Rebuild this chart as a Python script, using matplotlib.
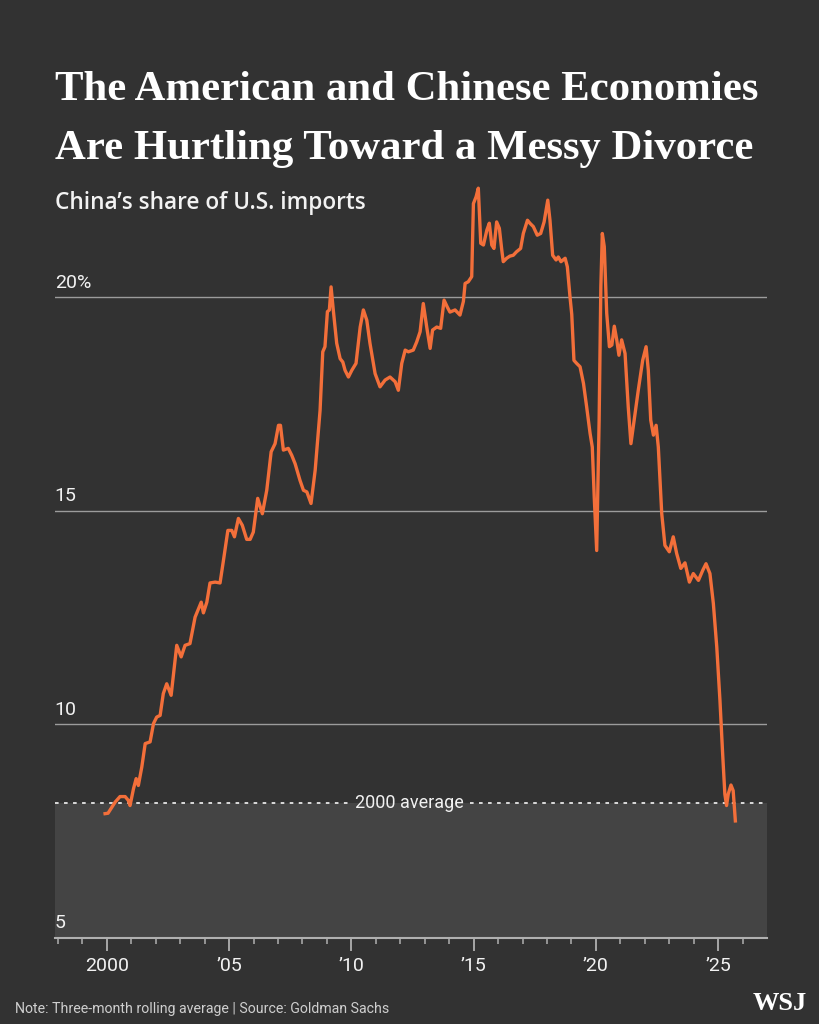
import matplotlib
matplotlib.use('Agg')
import matplotlib.pyplot as plt
from matplotlib import font_manager
from matplotlib.ticker import MultipleLocator
import matplotlib.transforms as mtransforms

# China's share of U.S. imports, three-month rolling average
years = [1999.93, 2000.05, 2000.34, 2000.54, 2000.75, 2000.88, 2000.95, 2001.09, 2001.2, 2001.29,
         2001.43, 2001.57, 2001.77, 2001.91, 2002.04, 2002.18, 2002.31, 2002.45, 2002.63, 2002.86,
         2003.04, 2003.2, 2003.4, 2003.61, 2003.86, 2003.95, 2004.09, 2004.22, 2004.43, 2004.63,
         2004.77, 2004.95, 2005.11, 2005.22, 2005.38, 2005.54, 2005.72, 2005.86, 2005.99, 2006.17,
         2006.36, 2006.54, 2006.72, 2006.88, 2007.02, 2007.1, 2007.22, 2007.42, 2007.56, 2007.7,
         2007.9, 2008.04, 2008.18, 2008.35, 2008.52, 2008.72, 2008.83, 2008.92, 2009.02, 2009.1,
         2009.17, 2009.26, 2009.4, 2009.54, 2009.65, 2009.74, 2009.88, 2010.02, 2010.19, 2010.36,
         2010.49, 2010.63, 2010.76, 2010.97, 2011.17, 2011.38, 2011.58, 2011.79, 2011.92, 2012.06,
         2012.2, 2012.33, 2012.53, 2012.67, 2012.81, 2012.94, 2013.08, 2013.22, 2013.32, 2013.49,
         2013.65, 2013.79, 2013.92, 2014.03, 2014.24, 2014.44, 2014.58, 2014.65, 2014.78, 2014.92,
         2014.99, 2015.1, 2015.19, 2015.29, 2015.4, 2015.54, 2015.64, 2015.74, 2015.83, 2015.94,
         2016.05, 2016.15, 2016.21, 2016.35, 2016.48, 2016.62, 2016.75, 2016.92, 2017.03, 2017.2,
         2017.3, 2017.44, 2017.6, 2017.74, 2017.88, 2018.03, 2018.12, 2018.23, 2018.37, 2018.46,
         2018.57, 2018.74, 2018.83, 2018.94, 2019.01, 2019.1, 2019.21, 2019.35, 2019.49, 2019.62,
         2019.76, 2019.85, 2019.93, 2020.03, 2020.13, 2020.2, 2020.26, 2020.34, 2020.44, 2020.55,
         2020.65, 2020.75, 2020.85, 2020.94, 2021.05, 2021.19, 2021.32, 2021.43, 2021.56, 2021.73,
         2021.91, 2022.05, 2022.14, 2022.24, 2022.35, 2022.46, 2022.55, 2022.69, 2022.82, 2023.0,
         2023.16, 2023.3, 2023.47, 2023.64, 2023.82, 2023.98, 2024.19, 2024.37, 2024.5, 2024.66,
         2024.8, 2024.94, 2025.07, 2025.18, 2025.27, 2025.34, 2025.41, 2025.52, 2025.61, 2025.7]
share = [7.91, 7.92, 8.18, 8.31, 8.31, 8.22, 8.10, 8.49, 8.73, 8.57,
         9.0, 9.55, 9.59, 10.02, 10.17, 10.21, 10.72, 10.95, 10.68, 11.85,
         11.58, 11.85, 11.89, 12.51, 12.86, 12.61, 12.86, 13.31, 13.33, 13.31,
         13.84, 14.54, 14.54, 14.39, 14.82, 14.66, 14.33, 14.33, 14.50, 15.29,
         14.93, 15.48, 16.38, 16.57, 17.0, 17.0, 16.42, 16.46, 16.3, 16.1,
         15.71, 15.48, 15.44, 15.17, 15.95, 17.35, 18.72, 18.84, 19.66, 19.70,
         20.24, 19.70, 18.92, 18.56, 18.48, 18.29, 18.13, 18.29, 18.45, 19.30,
         19.70, 19.46, 18.92, 18.21, 17.90, 18.06, 18.13, 18.02, 17.82, 18.45,
         18.76, 18.72, 18.76, 18.95, 19.19, 19.85, 19.30, 18.8, 19.23, 19.30,
         19.27, 19.93, 19.77, 19.65, 19.70, 19.58, 19.90, 20.32, 20.36, 20.48,
         22.19, 22.35, 22.55, 21.26, 21.22, 21.57, 21.73, 21.22, 21.14, 21.76,
         21.61, 21.10, 20.83, 20.91, 20.96, 20.98, 21.06, 21.14, 21.49, 21.80,
         21.73, 21.65, 21.45, 21.49, 21.76, 22.27, 21.80, 20.98, 20.87, 20.94,
         20.83, 20.91, 20.71, 20.0, 19.6, 18.52, 18.45, 18.37, 17.98, 17.43,
         16.81, 16.49, 15.32, 14.07, 17.12, 20.24, 21.49, 21.18, 19.62, 18.84,
         18.88, 19.32, 19.0, 18.64, 19.0, 18.68, 17.43, 16.57, 17.12, 17.82,
         18.52, 18.84, 18.29, 17.12, 16.77, 17.0, 16.49, 14.93, 14.19, 14.04,
         14.39, 14.0, 13.65, 13.78, 13.33, 13.53, 13.37, 13.61, 13.76, 13.53,
         12.83, 11.81, 10.56, 9.31, 8.37, 8.10, 8.37, 8.58, 8.45, 7.74]

avg_2000 = 8.15
ytick_vals = [5, 10, 15, 20]
ytick_labels = ['5', '10', '15', '20%']
xtick_vals = [2000, 2005, 2010, 2015, 2020, 2025]
xtick_labels = ['2000', '\u201905', '\u201910', '\u201915', '\u201920', '\u201925']

bg = '#323232'
shade = '#444444'
orange = '#f36f3a'
grid_c = '#9c9c9c'
txt = '#f2f2f2'

names = {f.name for f in font_manager.fontManager.ttflist}
narrow = 'Liberation Sans Narrow' if 'Liberation Sans Narrow' in names else 'Roboto'

fig = plt.figure(figsize=(8.19, 10.24), dpi=100, facecolor=bg)
ax = fig.add_axes([0.0668, 0.0840, 0.8693, 0.7510], facecolor=bg)

xmin, xmax = 1997.87, 2026.98
ax.set_xlim(xmin, xmax)
ax.set_ylim(5, 23)

# shaded band below the 2000 average, dotted line with a gap for the label
ax.axhspan(5, avg_2000, color=shade, zorder=0, lw=0)
dot = dict(color='#e6e6e6', lw=1.3, ls=(0, (2, 3)), zorder=1)
ax.plot([xmin, 2009.9], [avg_2000, avg_2000], **dot)
ax.plot([2014.85, xmax], [avg_2000, avg_2000], **dot)
ax.text(2012.37, avg_2000, '2000 average', ha='center', va='center', fontsize=13,
        color=txt, family=narrow, zorder=2)

for v in ytick_vals[1:]:
    ax.axhline(v, color=grid_c, lw=1.0, zorder=1)

ax.plot(years, share, color=orange, lw=2.4, solid_joinstyle='round', zorder=3)

# y labels sit above the gridlines at the left edge
off = mtransforms.offset_copy(ax.get_yaxis_transform(), fig=fig, x=0, y=4, units='points')
for v, lab in zip(ytick_vals, ytick_labels):
    ax.text(0.0, v, lab, transform=off, ha='left', va='bottom', fontsize=14,
            color=txt, family=narrow)

for s in ['top', 'right', 'left']:
    ax.spines[s].set_visible(False)
ax.spines['bottom'].set_color('#b0b0b0')
ax.spines['bottom'].set_linewidth(1.5)
ax.set_yticks([])
ax.set_xticks(xtick_vals)
ax.set_xticklabels(xtick_labels, fontsize=14, color=txt, family=narrow)
ax.xaxis.set_minor_locator(MultipleLocator(1))
ax.tick_params(axis='x', which='major', length=9, width=1.3, color='#b0b0b0', pad=5)
ax.tick_params(axis='x', which='minor', length=4.5, width=1.1, color='#b0b0b0')

fig.text(0.067, 1 - 100 / 1024, 'The American and Chinese Economies', fontsize=30.8,
         fontweight='bold', family='Liberation Serif', color='white', va='baseline')
fig.text(0.067, 1 - 159 / 1024, 'Are Hurtling Toward a Messy Divorce', fontsize=30.8,
         fontweight='bold', family='Liberation Serif', color='white', va='baseline')
fig.text(0.067, 1 - 209 / 1024, 'China\u2019s share of U.S. imports', fontsize=16.3,
         fontweight='semibold', family='Open Sans', color=txt, va='baseline')

fig.text(0.018, 1 - 1013 / 1024, 'Note: Three-month rolling average | Source: Goldman Sachs',
         fontsize=10.2, family=narrow, color='#cfcfcf', va='baseline')
fig.text(0.985, 1 - 1010 / 1024, 'WSJ', fontsize=19, fontweight='bold',
         family='Liberation Serif', color='white', ha='right', va='baseline')

fig.savefig('out.png', dpi=100, facecolor=bg)
